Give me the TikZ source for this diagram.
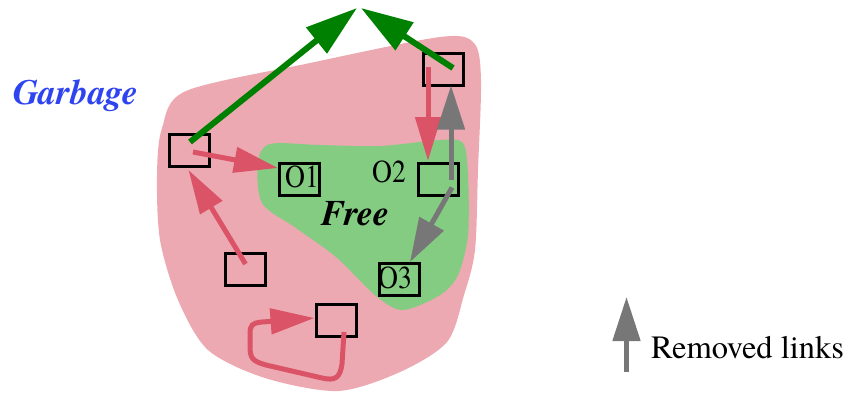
\documentclass[tikz,border=0pt]{standalone}
\usepackage{fontspec}
\setmainfont{texgyretermes}[
  Extension=.otf,
  UprightFont=*-regular,
  BoldFont=*-bold,
  ItalicFont=*-italic,
  BoldItalicFont=*-bolditalic]
\usetikzlibrary{arrows.meta}

\definecolor{garbagefill}{HTML}{ECA9B1}
\definecolor{freefill}{HTML}{83CC82}
\definecolor{linkred}{HTML}{DB5366}
\definecolor{linkgrey}{HTML}{777777}
\definecolor{rootgreen}{HTML}{008000}
\definecolor{garbageblue}{HTML}{2E44F0}

\tikzset{
  objbox/.style={draw=black, line width=3pt, minimum width=40pt, minimum height=32pt, inner sep=0pt},
  objlabel/.style={anchor=base west, inner sep=0pt, font=\fontsize{32}{36}\selectfont},
  rootlink/.style={draw=rootgreen, line width=6pt, -{Triangle[length=52pt,width=32pt]}},
  livelink/.style={draw=linkred, line width=5pt, -{Triangle[length=44pt,width=25pt]}},
  deadlink/.style={draw=linkgrey, line width=5pt, -{Triangle[length=44pt,width=27pt]}},
}

\begin{document}
\begin{tikzpicture}[x=1pt, y=-1pt]
  \useasboundingbox (0,0) rectangle (850,392);

  % garbage region
  \fill[garbagefill] plot[smooth cycle, tension=0.5] coordinates {
    (157,175) (162,128) (186,91) (310,63) (440,37) (474,43) (481,80)
    (478,170) (475,250) (464,295) (447,342) (400,372) (338,391)
    (265,378) (208,350) (178,300) (160,240)};

  % free region
  \fill[freefill] plot[smooth cycle, tension=0.5] coordinates {
    (258,162) (270,144) (320,145) (380,146) (440,140) (463,143) (468,175)
    (468,235) (458,275) (440,295) (403,310) (376,296) (336,257)
    (296,228) (262,203)};

  % objects
  \node[objbox] (A)  at (189.5,150.5) {};
  \node[objbox] (O1) at (299.5,179.5) {};
  \node[objbox] (O2) at (438,179.5) {};
  \node[objbox] (T)  at (443,69) {};
  \node[objbox] (O3) at (399,279.5) {};
  \node[objbox] (L)  at (245.5,269) {};
  \node[objbox] (B)  at (336,320) {};

  \node[objlabel] (l1) at (285,187) {\scalebox{0.86}[1]{O1}};
  \node[objlabel] (l2) at (372,182) {\scalebox{0.86}[1]{O2}};
  \node[objlabel] (l3) at (378,288) {\scalebox{0.86}[1]{O3}};

  % region names
  \node[anchor=base west, inner sep=0pt, text=garbageblue,
        font=\fontsize{35.5}{40}\selectfont\bfseries\itshape] (garbage) at (13,104) {Garbage};
  \node[anchor=base west, inner sep=0pt,
        font=\fontsize{36}{40}\selectfont\bfseries\itshape] (free) at (321,225) {Free};

  % root references
  \coordinate (apexL) at (357,8);
  \coordinate (apexR) at (361,8);
  \draw[rootlink] ([shift={(0.5,-8.5)}]A.center) -- (apexL);
  \draw[rootlink] ([shift={(10,-1)}]T.center) -- (apexR);

  % surviving links
  \draw[livelink] ([shift={(3.5,1.5)}]A.center) -- ([shift={(0,-11.5)}]O1.west);
  \draw[livelink] ([shift={(-15,-2)}]T.center) -- ([shift={(-10,-1)}]O2.north);
  \draw[livelink] ([shift={(0,-5)}]L.center) -- ([shift={(-1,2)}]A.south);
  \draw[livelink] ([shift={(8,12)}]B.center) -- (342,364)
    .. controls (340,378) and (335,381) .. (322,378) -- (266,365)
    .. controls (252,361) and (250,358) .. (250,346) -- (250,334)
    .. controls (250,325) and (252,323) .. (262,322) -- ([shift={(0,-2)}]B.west);

  % removed links
  \draw[deadlink] ([shift={(13,0)}]O2.center) -- ([shift={(8,-1)}]T.south);
  \draw[deadlink] ([shift={(14,8)}]O2.center) -- ([shift={(11,0)}]O3.north);

  % legend
  \coordinate (legbot) at (626.5,372);
  \coordinate (legtop) at (626.5,297);
  \draw[deadlink] (legbot) -- (legtop);
  \node[anchor=base west, inner sep=0pt, font=\fontsize{32.5}{36}\selectfont] (legtxt) at (651,358) {Removed links};
\end{tikzpicture}
\end{document}
